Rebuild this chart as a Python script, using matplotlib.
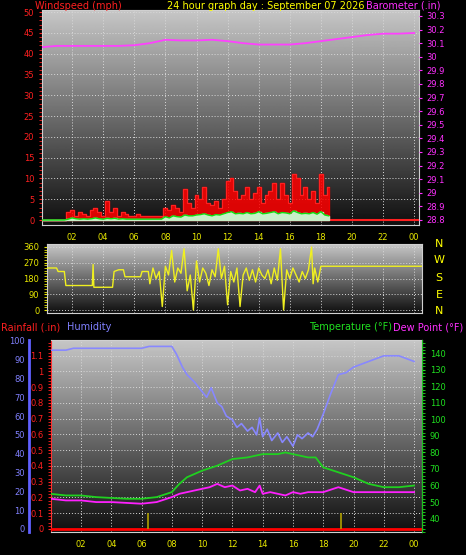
import numpy as np
import matplotlib
matplotlib.use("Agg")
import matplotlib.pyplot as plt

# ---------------- data ----------------
hour_labels = ["02", "04", "06", "08", "10", "12", "14", "16", "18", "20", "22", "00"]
hour_ticks = [2, 4, 6, 8, 10, 12, 14, 16, 18, 20, 22, 24]

# wind (15 min steps, 0..18.5 h)
wind_t = [i * 0.25 for i in range(75)]
wind_gust = [0, 0, 0, 0, 0, 0, 0, 2, 2.5, 1, 2, 1.5, 1, 2.5, 3, 2, 1, 4.5, 2, 3, 1, 2, 1.5, 1, 1, 1.5,
             1, 1, 1, 1, 1, 1, 3, 2.5, 3.5, 3, 2, 7.5, 4, 3, 6, 5, 8, 4, 3.5, 4.5, 3, 5, 9.5, 10, 7, 5, 6, 8,
             5, 6.5, 8, 4, 6, 7, 9, 5, 9, 6, 4, 11, 10, 6, 8, 5, 7, 4, 11, 6, 8]
wind_avg = [0, 0, 0, 0, 0, 0, 0, 0.2, 0.5, 0.3, 0.2, 0.3, 0.2, 0.3, 0.5, 0.3, 0.2, 0.4, 0.3, 0.4, 0.2, 0.3, 0.2, 0.2,
            0.2, 0.2, 0.2, 0.2, 0.2, 0.2, 0.2, 0.2, 0.8, 0.5, 1, 0.8, 0.7, 1.2, 1, 1, 1.2, 1.3, 1.5, 1.2, 1, 1.3,
            1.2, 1.5, 1.8, 2, 1.5, 1.6, 1.5, 1.8, 1.5, 1.6, 2, 1.5, 1.6, 1.8, 2, 1.5, 1.8, 1.7, 1.5, 2.2, 1.8, 1.5,
            1.6, 1.5, 1.8, 1.4, 2, 1.2, 1]

baro_t = [0, 1, 2, 3, 4, 5, 6, 7, 8, 9, 10, 11, 12, 13, 14, 15, 16, 17, 18, 19, 20, 21, 22, 23, 24]
baro = [30.07, 30.08, 30.08, 30.08, 30.08, 30.08, 30.085, 30.1, 30.125, 30.12, 30.12, 30.125, 30.115, 30.1,
        30.09, 30.09, 30.09, 30.1, 30.115, 30.13, 30.145, 30.16, 30.17, 30.17, 30.175]

# wind direction
dir_t = [0, 1, 1.1, 1.5, 1.6, 3.3, 3.35, 3.4, 4.6, 4.7, 5.0, 5.3, 5.4, 6.4, 6.5, 6.9, 7.0,
         7.2, 7.4, 7.6, 7.8, 8.0, 8.2, 8.4, 8.6, 8.8, 9.0, 9.2, 9.4, 9.6, 9.8, 10.0, 10.2, 10.4, 10.6, 10.8,
         11.0, 11.2, 11.4, 11.6, 11.8, 12.0, 12.2, 12.4, 12.6, 12.8, 13.0, 13.2, 13.4, 13.6, 13.8, 14.0,
         14.2, 14.4, 14.6, 14.8, 15.0, 15.2, 15.4, 15.6, 15.8, 16.0, 16.2, 16.4, 16.6, 16.8, 17.0, 17.2,
         17.4, 17.5, 17.6, 17.8, 18.0, 24.5]
dir_deg = [240, 240, 220, 220, 140, 140, 260, 130, 130, 220, 230, 230, 190, 190, 220, 220, 150,
           240, 180, 220, 20, 250, 200, 340, 160, 240, 210, 350, 110, 200, 0, 280, 160, 240, 210, 140,
           230, 190, 350, 180, 250, 30, 220, 160, 240, 20, 200, 240, 170, 230, 160, 240, 200, 180, 230, 150,
           240, 170, 350, 0, 230, 180, 240, 200, 160, 220, 180, 230, 360, 150, 240, 160, 250, 250]

# humidity / temperature / dew point (bottom panel)
hum_t = [0, 1, 1.5, 2, 3, 4, 5, 6, 6.5, 7, 8, 8.3, 8.7, 9, 9.5, 10, 10.3, 10.6, 11, 11.3, 11.6, 12, 12.3,
         12.6, 13, 13.3, 13.6, 13.8, 14, 14.3, 14.6, 15, 15.3, 15.6, 16, 16.3, 16.6, 17, 17.3, 17.6, 18,
         18.5, 19, 19.5, 20, 21, 22, 23, 24]
humidity = [95, 95, 96, 96, 96, 96, 96, 96, 97, 97, 97, 93, 86, 82, 78, 73, 70, 75, 67, 65, 60, 58, 54,
            56, 52, 54, 50, 59, 49, 53, 47, 51, 46, 49, 44, 50, 48, 51, 49, 53, 61, 72, 82, 83, 86, 89, 92, 92, 89]

temp_t = [0, 1, 2, 3, 4, 5, 6, 7, 8, 8.5, 9, 10, 11, 12, 13, 14, 15, 15.5, 16, 17, 17.5, 18, 19, 20, 21, 22, 23, 24]
temperature = [55, 54, 54, 53, 52.5, 52, 52, 53, 56, 61, 65, 69, 72, 76, 77, 79, 79, 80, 79, 77, 77, 71,
               68, 65, 61, 59, 59, 60]
dew_t = [0, 1, 2, 3, 4, 5, 6, 7, 8, 8.5, 9, 10, 10.5, 11, 11.5, 12, 12.5, 13, 13.5, 13.8, 14, 14.5, 15, 15.5,
         16, 16.5, 17, 18, 19, 20, 21, 22, 23, 24]
dewpoint = [52, 51, 51, 50, 50, 49.5, 49, 50, 53, 55, 56, 58, 59, 61, 59, 60, 57, 58, 56, 60, 55, 56, 55,
            54, 56, 55, 56, 56, 59, 56, 56, 56, 56, 56]
rain_t = [6.4, 19.2]
rain_ticks = [0.1, 0.1]

# ---------------- drawing ----------------
W, H = 466, 555
fig = plt.figure(figsize=(W / 100, H / 100), dpi=100, facecolor="black")
fs = 6
tfs = 7


def rect(x0, y0, x1, y1):
    return [x0 / W, 1 - y1 / H, (x1 - x0) / W, (y1 - y0) / H]


def gradient(ax):
    g = np.linspace(0, 1, 256).reshape(-1, 1)
    ax.imshow(g, aspect="auto", cmap="gray", vmin=-0.08, vmax=1.3, origin="lower",
              extent=(0, 1, 0, 1), transform=ax.transAxes, zorder=0)


def style(ax, xlim, ylim):
    ax.set_facecolor("black")
    gradient(ax)
    ax.set_xlim(*xlim)
    ax.set_ylim(*ylim)
    ax.grid(True, color="#d8d8d8", linestyle=(0, (1, 2)), linewidth=0.7, zorder=1)
    for s in ax.spines.values():
        s.set_color("#d0d0d0")
    ax.set_xticks(hour_ticks)


# top panel: wind + barometer
ax1 = fig.add_axes(rect(42, 10, 419, 225))
style(ax1, ((42 - 41) / 15.55, (419 - 41) / 15.55), (-1.2, 50.5))
ax1.set_xticklabels(hour_labels, color="#e8e800", fontsize=fs)
ax1.tick_params(axis="x", colors="#e8e800", length=0, pad=6)
ax1.set_yticks(range(0, 51, 5))
ax1.tick_params(axis="y", colors="#ff2020", labelsize=fs, length=2, direction="out")
ax1.set_yticks(np.arange(0, 51, 1), minor=True)
ax1.tick_params(axis="y", which="minor", colors="#ff2020", length=2)
for lab in ax1.get_yticklabels():
    lab.set_color("#ff2020")
ax1.fill_between(wind_t, wind_gust, step="mid", color="#ff0000", alpha=0.85, zorder=3)
ax1.step(wind_t, wind_gust, where="mid", color="#ff2020", lw=0.8, zorder=3)
ax1.plot([18.5, 24.5], [0, 0], color="#ff2020", lw=1.5, zorder=3)
ax1.fill_between(wind_t, wind_avg, step="mid", color="#c8f0c8", zorder=4)
ax1.plot(wind_t, wind_avg, color="#10e010", lw=1, zorder=5)
ax1b = ax1.twinx()
ax1b.set_ylim(28.763, 30.344)
ax1b.set_yticks(np.round(np.arange(28.8, 30.31, 0.1), 1))
ax1b.set_yticklabels([f"{v:g}" for v in np.round(np.arange(28.8, 30.31, 0.1), 1)], color="#ff30ff", fontsize=fs)
ax1b.tick_params(axis="y", colors="#ff30ff", length=2)
ax1b.plot(baro_t, baro, color="#ff40ff", lw=1.3, zorder=5)
for s in ax1b.spines.values():
    s.set_visible(False)

fig.text(35 / W, 1 - 6 / H, "Windspeed (mph)", color="#ff2020", fontsize=tfs, va="center")
fig.text(266 / W, 1 - 6 / H, "24 hour graph day : September 07 2026", color="#ffff00", fontsize=tfs,
         va="center", ha="center")
fig.text(440 / W, 1 - 6 / H, "Barometer (.in)", color="#ff30ff", fontsize=tfs, va="center", ha="right")

# middle panel: wind direction
ax2 = fig.add_axes(rect(47, 244, 422, 313))
style(ax2, ((47 - 41) / 15.55, (422 - 41) / 15.55), (-17, 377))
ax2.set_xticklabels([])
ax2.tick_params(axis="x", length=0)
ax2.set_yticks([0, 90, 180, 270, 360])
ax2.set_yticks(range(0, 361, 15), minor=True)
ax2.tick_params(axis="y", colors="#e8e800", labelsize=fs, length=2)
ax2.tick_params(axis="y", which="minor", colors="#e8e800", length=2)
for lab in ax2.get_yticklabels():
    lab.set_color("#e8e800")
ax2.plot(dir_t, dir_deg, color="#f0f020", lw=1, zorder=3)
for lab, y in zip(["N", "W", "S", "E", "N"], [244, 260, 278, 295, 311]):
    fig.text(439 / W, 1 - y / H, lab, color="#ffff00", fontsize=8, ha="center", va="center")

fig.text(1 / W, 1 - 327 / H, "Rainfall (.in)", color="#ff2020", fontsize=tfs, va="center")
fig.text(67 / W, 1 - 327 / H, "Humidity", color="#8080ff", fontsize=tfs, va="center")
fig.text(392 / W, 1 - 327 / H, "Temperature (°F)", color="#20e020", fontsize=tfs, va="center", ha="right")
fig.text(463 / W, 1 - 327 / H, "Dew Point (°F)", color="#ff30ff", fontsize=tfs, va="center", ha="right")

# bottom panel
ax3 = fig.add_axes(rect(51, 340, 422, 532))
style(ax3, ((51 - 50.7) / 15.14, (422 - 50.7) / 15.14), (-0.0195, 1.2))
ax3.set_xticklabels(hour_labels, color="#e8e800", fontsize=fs)
ax3.tick_params(axis="x", colors="#e8e800", length=0, pad=6)
ax3.set_yticks(np.round(np.arange(0, 1.11, 0.1), 1))
ax3.set_yticklabels([f"{v:g}" for v in np.round(np.arange(0, 1.11, 0.1), 1)], color="#ff2020", fontsize=fs)
ax3.set_yticks(np.arange(0, 1.2, 0.02), minor=True)
ax3.tick_params(axis="y", colors="#ff2020", length=2)
ax3.tick_params(axis="y", which="minor", colors="#ff2020", length=2)
ax3.spines["left"].set_color("#ff3030")
ax3.spines["left"].set_linestyle((0, (2, 1)))
ax3.plot([0, 24.5], [0, 0], color="#ff0000", lw=2, zorder=3)
ax3.vlines(rain_t, 0, rain_ticks, color="#b0a000", lw=1.2, zorder=3)

axh = ax3.twinx()
axh.set_ylim(-1.6, 100.4)
axh.spines["right"].set_visible(False)
axh.spines["top"].set_visible(False)
axh.spines["bottom"].set_visible(False)
axh.yaxis.set_ticks_position("left")
axh.yaxis.set_label_position("left")
axh.spines["left"].set_visible(True)
axh.spines["left"].set_position(("outward", 22 * 0.72))
axh.spines["left"].set_color("#6060ff")
axh.spines["left"].set_linewidth(2)
axh.set_yticks(range(0, 101, 10))
axh.set_yticklabels([str(v) for v in range(0, 101, 10)], color="#8080ff", fontsize=fs)
axh.tick_params(axis="y", colors="#8080ff", length=0, pad=3)
axh.plot(hum_t, humidity, color="#8888ff", lw=1.2, zorder=4)

axt = ax3.twinx()
axt.set_ylim(31.9, 148)
for s in ["left", "top", "bottom"]:
    axt.spines[s].set_visible(False)
axt.spines["right"].set_color("#20c020")
axt.set_yticks(range(40, 141, 10))
axt.set_yticklabels([str(v) for v in range(40, 141, 10)], color="#20e020", fontsize=fs)
axt.set_yticks(range(32, 148, 2), minor=True)
axt.tick_params(axis="y", colors="#20e020", length=2)
axt.tick_params(axis="y", which="minor", colors="#20e020", length=2)
axt.plot(temp_t, temperature, color="#20d020", lw=1.3, zorder=4)
axt.plot(dew_t, dewpoint, color="#ff20ff", lw=1.3, zorder=4)

fig.savefig("out.png", dpi=100, facecolor="black")
